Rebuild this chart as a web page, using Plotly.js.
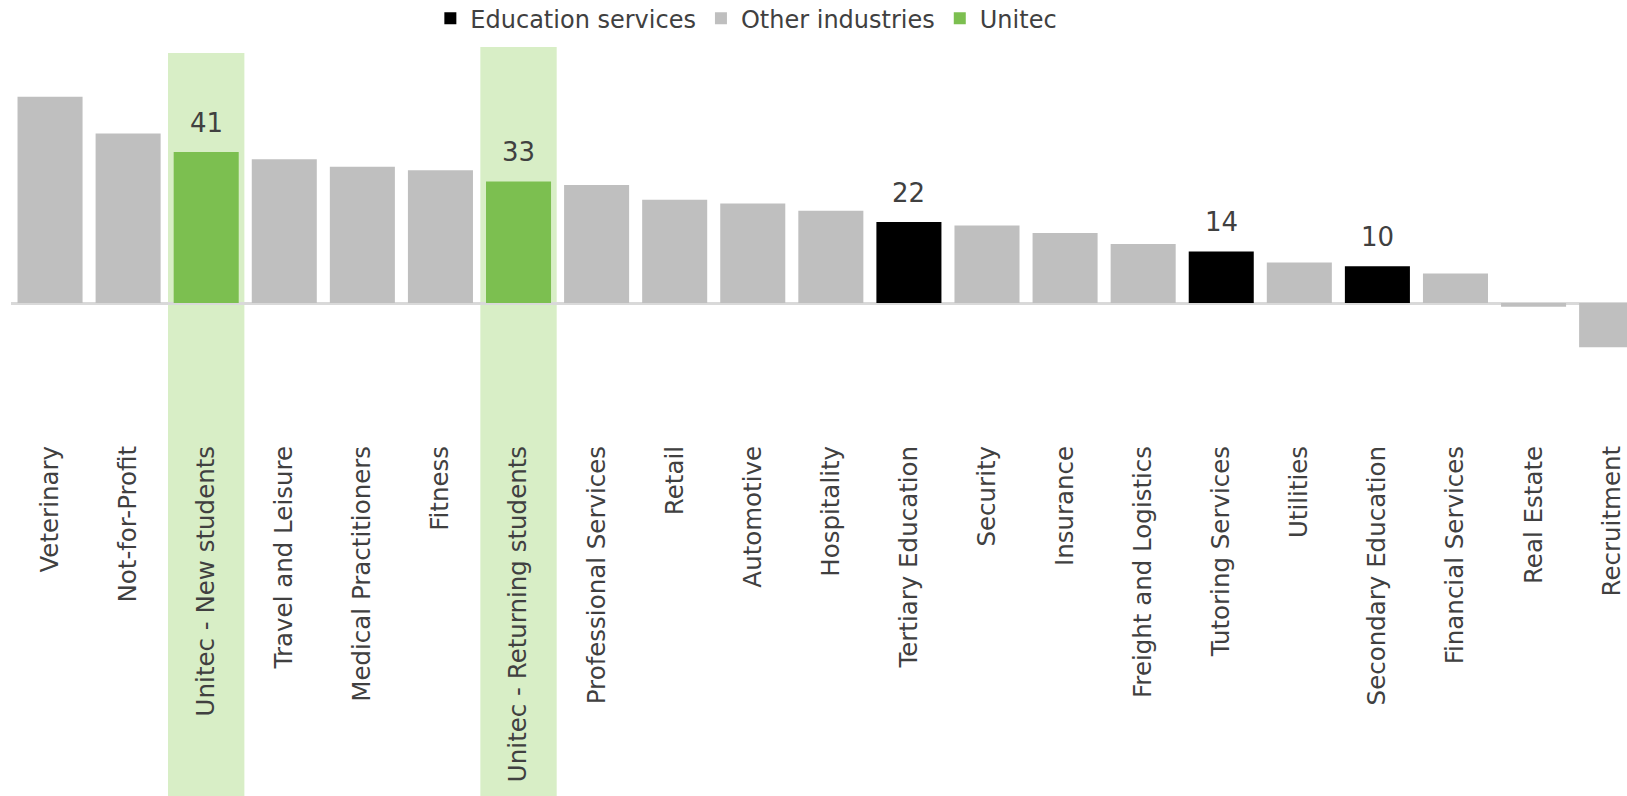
<!DOCTYPE html>
<html>
<head>
<meta charset="utf-8">
<script src="https://cdn.plot.ly/plotly-3.0.1.min.js"></script>
<style>html,body{margin:0;padding:0;background:#fff;}#chart{width:1627px;height:796px;}</style>
</head>
<body>
<div id="chart"></div>
<script>
// ---- data ----
const categories = ["Veterinary","Not-for-Profit","Unitec - New students","Travel and Leisure","Medical Practitioners","Fitness","Unitec - Returning students","Professional Services","Retail","Automotive","Hospitality","Tertiary Education","Security","Insurance","Freight and Logistics","Tutoring Services","Utilities","Secondary Education","Financial Services","Real Estate","Recruitment"];
const values = [56,46,41,39,37,36,33,32,28,27,25,22,21,19,16,14,11,10,8,-1,-12];
const groups = ["Other industries","Other industries","Unitec","Other industries","Other industries","Other industries","Unitec","Other industries","Other industries","Other industries","Other industries","Education services","Other industries","Other industries","Other industries","Education services","Other industries","Education services","Other industries","Other industries","Other industries"];
const seriesNames = ["Education services","Other industries","Unitec"];
const labelledSeries = ["Education services","Unitec"];

// ---- styles ----
const colors = {"Education services":"#000000","Other industries":"#bfbfbf","Unitec":"#7cbf50"};
const bandColor = "#d8eec6";
const textColor = "#404040";
const FONT = "DejaVu Sans, Verdana, sans-serif";

const W = 1627, H = 796;
const marginL = 11, marginR = 0, marginT = 45, marginB = 356;
const plotW = W - marginL - marginR, plotH = H - marginT - marginB;
const catPx = 78.08, baselinePx = 303, unitPx = 3.685;
const xr = [-0.5, -0.5 + plotW / catPx];
const yr = [-(marginT + plotH - baselinePx) / unitPx, (baselinePx - marginT) / unitPx];

const traces = seriesNames.map(name => ({
  type: "bar",
  name: name,
  x: categories,
  y: values.map((v, i) => groups[i] === name ? v : null),
  marker: {color: colors[name]},
  hoverinfo: "skip",
  cliponaxis: false
}));

const annotations = [];
values.forEach((v, i) => {
  if (labelledSeries.includes(groups[i])) {
    annotations.push({
      x: categories[i], y: v, xref: "x", yref: "y",
      text: String(v), showarrow: false, yanchor: "bottom", yshift: 12,
      font: {family: FONT, size: 26, color: textColor}
    });
  }
});

const shapes = [];
const bandTopPx = {"Unitec - New students": 53, "Unitec - Returning students": 47};
categories.forEach((c, i) => {
  if (groups[i] === "Unitec") {
    const px0 = (i - 0.489 - xr[0]) / (xr[1] - xr[0]);
    const px1 = (i + 0.489 - xr[0]) / (xr[1] - xr[0]);
    const top = (marginT + plotH - bandTopPx[c]) / plotH;
    shapes.push({type: "rect", xref: "paper", yref: "paper", x0: px0, x1: px1, y0: -1.2, y1: top,
      fillcolor: bandColor, line: {width: 0}, layer: "below"});
  }
});

const layout = {
  width: W, height: H, autosize: false,
  margin: {l: marginL, r: marginR, t: marginT, b: marginB, pad: 0},
  paper_bgcolor: "#ffffff", plot_bgcolor: "rgba(0,0,0,0)",
  barmode: "overlay", bargap: 0.167,
  showlegend: true,
  legend: {orientation: "h", x: 0.2595, xanchor: "left", yref: "container", y: 1 - 18.7 / H, yanchor: "middle",
    font: {family: FONT, size: 24, color: textColor}, traceorder: "normal", bgcolor: "rgba(0,0,0,0)"},
  xaxis: {type: "category", range: xr, tickangle: -90, showgrid: false, showline: false, zeroline: false,
    ticks: "", tickfont: {family: FONT, size: 24.5, color: textColor}, fixedrange: true, automargin: false},
  yaxis: {range: yr, showgrid: false, showticklabels: false, ticks: "", showline: false,
    zeroline: true, zerolinecolor: "#d9d9d9", zerolinewidth: 3, fixedrange: true, automargin: false},
  annotations: annotations,
  shapes: shapes,
  hovermode: false,
  font: {family: FONT, color: textColor}
};

Plotly.newPlot("chart", traces, layout, {displayModeBar: false, staticPlot: true});
</script>
</body>
</html>
